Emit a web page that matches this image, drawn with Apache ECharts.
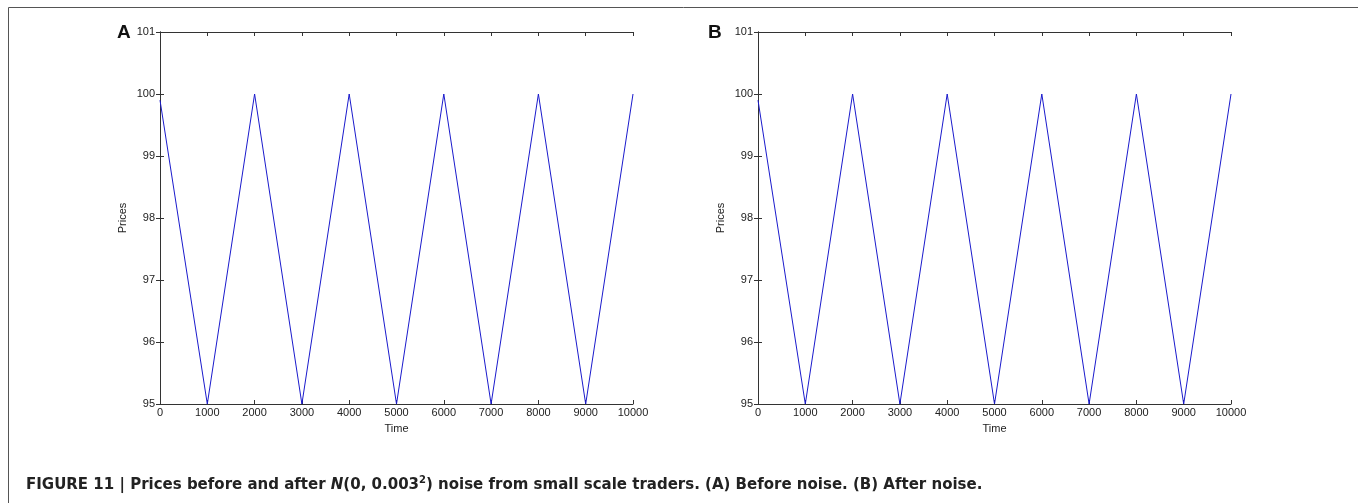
<!DOCTYPE html>
<html>
<head>
<meta charset="utf-8">
<script src="https://cdn.jsdelivr.net/npm/echarts@6/dist/echarts.min.js"></script>
<style>
  html, body { margin: 0; padding: 0; background: #fff; }
  #chart { width: 1358px; height: 503px; }
</style>
</head>
<body>
<div id="chart"></div>
<script>
// turning points of the price path
const times = [0, 1000, 2000, 3000, 4000, 5000, 6000, 7000, 8000, 9000, 10000]
const pricesBefore = [99.9, 95, 100, 95, 100, 95, 100, 95, 100, 95, 100]
const pricesAfter = [99.9, 95, 100, 95, 100, 95, 100, 95, 100, 95, 100]
const panelLabels = ['A', 'B']

const tickFont = { fontFamily: 'Liberation Sans', fontSize: 11, color: '#222' }
const lineColor = '#333'

function pairs(xs, ys) {
  return xs.map(function (x, i) { return [x, ys[i]] })
}

function xAxes(grid) {
  return [
    {
      type: 'value', gridIndex: grid, position: 'bottom', min: 0, max: 10000, interval: 1000,
      name: 'Time', nameLocation: 'middle', nameGap: 19,
      nameTextStyle: { fontFamily: 'Liberation Sans', fontSize: 11, color: '#222' },
      axisLine: { lineStyle: { color: lineColor, width: 1 } },
      axisTick: { inside: true, length: 4, lineStyle: { color: lineColor } },
      axisLabel: Object.assign({ margin: 3, formatter: function (v) { return String(v) } }, tickFont),
      splitLine: { show: false }
    },
    {
      type: 'value', gridIndex: grid, position: 'top', min: 0, max: 10000, interval: 1000,
      axisLine: { lineStyle: { color: lineColor, width: 1 } },
      axisTick: { inside: true, length: 4, lineStyle: { color: lineColor } },
      axisLabel: { show: false },
      splitLine: { show: false }
    }
  ]
}

function yAxes(grid) {
  return [
    {
      type: 'value', gridIndex: grid, position: 'left', min: 95, max: 101, interval: 1,
      name: 'Prices', nameLocation: 'middle', nameGap: 32, nameRotate: 90,
      nameTextStyle: { fontFamily: 'Liberation Sans', fontSize: 11, color: '#222' },
      axisLine: { show: true, lineStyle: { color: lineColor, width: 1 } },
      axisTick: { show: true, inside: true, length: 4, lineStyle: { color: lineColor } },
      axisLabel: Object.assign({ margin: 5 }, tickFont),
      splitLine: { show: false }
    },
    {
      type: 'value', gridIndex: grid, position: 'right', min: 95, max: 101, interval: 1,
      axisLine: { show: true, lineStyle: { color: lineColor, width: 1 } },
      axisTick: { show: true, inside: true, length: 4, lineStyle: { color: lineColor } },
      axisLabel: { show: false },
      splitLine: { show: false }
    }
  ]
}

const capFont = 'DejaVu Sans'

const option = {
  backgroundColor: '#fff',
  animation: false,
  grid: [
    { left: 160, top: 32, width: 473, height: 372 },
    { left: 758, top: 32, width: 473, height: 372 }
  ],
  xAxis: xAxes(0).concat(xAxes(1)),
  yAxis: yAxes(0).concat(yAxes(1)),
  series: [
    {
      type: 'line', xAxisIndex: 0, yAxisIndex: 0, data: pairs(times, pricesBefore),
      showSymbol: false, lineStyle: { color: '#1a1acc', width: 1 }
    },
    {
      type: 'line', xAxisIndex: 2, yAxisIndex: 2, data: pairs(times, pricesAfter),
      showSymbol: false, lineStyle: { color: '#1a1acc', width: 1 }
    }
  ],
  title: {
    left: 21, top: 470,
    text: '{b|FIGURE 11 | Prices before and after }{bi|N}{b|(0, 0.003}{sup|2}{b|) noise from small scale traders. (A)}{n| Before noise. }{b|(B)}{n| After noise.}',
    textStyle: {
      rich: {
        b: { fontFamily: capFont, fontSize: 15, fontWeight: 'bold', color: '#222', lineHeight: 20 },
        bi: { fontFamily: capFont, fontSize: 15, fontWeight: 'bold', fontStyle: 'italic', color: '#222', lineHeight: 20 },
        sup: { fontFamily: capFont, fontSize: 10, fontWeight: 'bold', color: '#222', verticalAlign: 'top', lineHeight: 10, padding: [0, 0, 8, 0] },
        n: { fontFamily: capFont, fontSize: 15, color: '#222', lineHeight: 20 }
      }
    }
  },
  graphic: [
    {
      type: 'rect', left: 6, top: 5, silent: true,
      shape: { width: 1350, height: 530 },
      style: { fill: 'none', stroke: '#555', lineWidth: 1 }
    },
    {
      type: 'text', left: 117, top: 23,
      style: { text: panelLabels[0], fontFamily: 'Liberation Sans', fontSize: 19, fontWeight: 'bold', fill: '#111' }
    },
    {
      type: 'text', left: 708, top: 23,
      style: { text: panelLabels[1], fontFamily: 'Liberation Sans', fontSize: 19, fontWeight: 'bold', fill: '#111' }
    }
  ]
}

const chart = echarts.init(document.getElementById('chart'))
chart.setOption(option)
</script>
</body>
</html>
